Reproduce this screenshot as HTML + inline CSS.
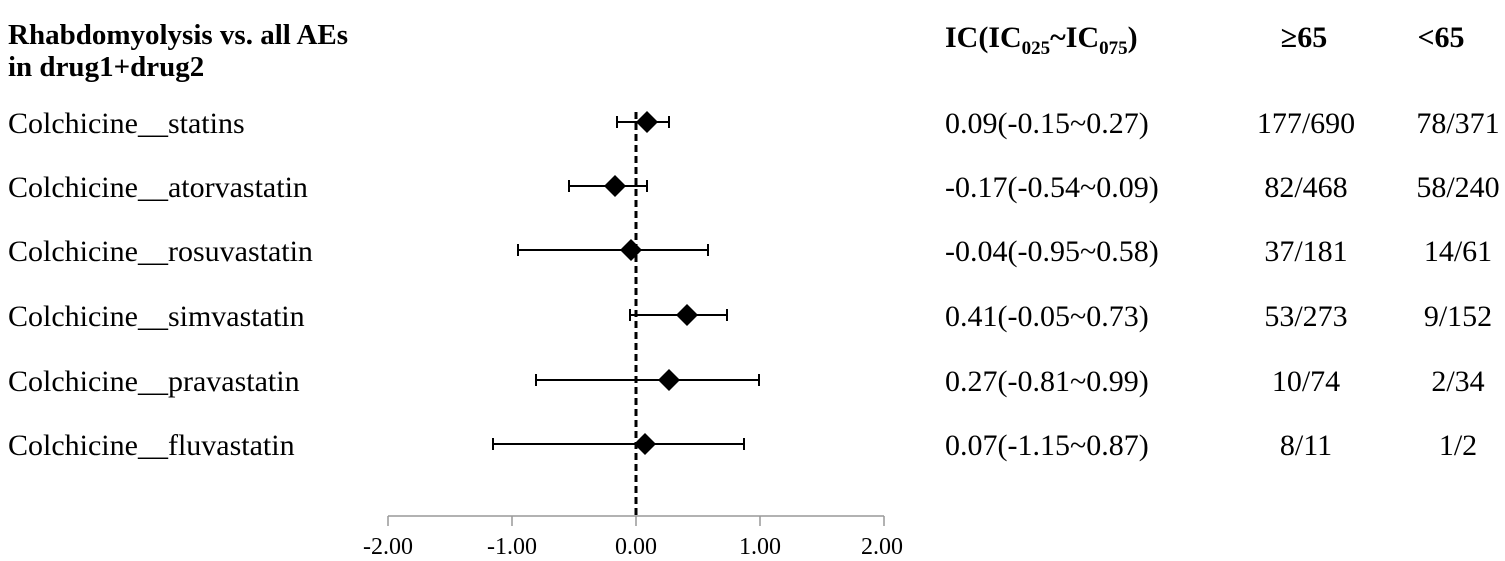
<!DOCTYPE html>
<html><head><meta charset="utf-8"><style>
html,body{margin:0;padding:0;background:#fff;}
svg text{font-family:"Liberation Serif",serif;fill:#000;}
</style></head><body>
<svg width="1505" height="556" viewBox="0 0 1505 556" xmlns="http://www.w3.org/2000/svg">
<g font-weight="bold" font-size="30">
<text x="8" y="44" font-size="29">Rhabdomyolysis vs. all AEs</text>
<text x="8" y="76" font-size="29">in drug1+drug2</text>
<text x="945" y="47">IC(IC<tspan font-size="19" dy="7">025</tspan><tspan dy="-7">~IC</tspan><tspan font-size="19" dy="7">075</tspan><tspan dy="-7">)</tspan></text>
<text x="1304" y="47" text-anchor="middle">≥65</text>
<text x="1441" y="47" text-anchor="middle">&lt;65</text>
</g>
<g font-size="30">
<text x="8" y="133">Colchicine__statins</text>
<text x="8" y="197">Colchicine__atorvastatin</text>
<text x="8" y="261">Colchicine__rosuvastatin</text>
<text x="8" y="326">Colchicine__simvastatin</text>
<text x="8" y="391">Colchicine__pravastatin</text>
<text x="8" y="455">Colchicine__fluvastatin</text>
<text x="945" y="133">0.09(-0.15~0.27)</text>
<text x="945" y="197">-0.17(-0.54~0.09)</text>
<text x="945" y="261">-0.04(-0.95~0.58)</text>
<text x="945" y="326">0.41(-0.05~0.73)</text>
<text x="945" y="391">0.27(-0.81~0.99)</text>
<text x="945" y="455">0.07(-1.15~0.87)</text>
<g text-anchor="middle">
<text x="1306" y="133">177/690</text>
<text x="1306" y="197">82/468</text>
<text x="1306" y="261">37/181</text>
<text x="1306" y="326">53/273</text>
<text x="1306" y="391">10/74</text>
<text x="1306" y="455">8/11</text>
<text x="1458" y="133">78/371</text>
<text x="1458" y="197">58/240</text>
<text x="1458" y="261">14/61</text>
<text x="1458" y="326">9/152</text>
<text x="1458" y="391">2/34</text>
<text x="1458" y="455">1/2</text>
</g>
</g>
<g stroke="#999" stroke-width="1.5" fill="none">
<line x1="388" y1="516" x2="884" y2="516"/>
<line x1="388" y1="516" x2="388" y2="526"/>
<line x1="512" y1="516" x2="512" y2="526"/>
<line x1="636" y1="516" x2="636" y2="526"/>
<line x1="760" y1="516" x2="760" y2="526"/>
<line x1="884" y1="516" x2="884" y2="526"/>
</g>
<g font-size="24" text-anchor="middle">
<text x="388" y="554">-2.00</text>
<text x="512" y="554">-1.00</text>
<text x="636" y="554">0.00</text>
<text x="760" y="554">1.00</text>
<text x="882" y="554">2.00</text>
</g>
<line x1="636" y1="112" x2="636" y2="516" stroke="#000" stroke-width="3" stroke-dasharray="7,4"/>
<g stroke="#000" stroke-width="2">
<line x1="617" y1="122" x2="669" y2="122"/><line x1="617" y1="116" x2="617" y2="128"/><line x1="669" y1="116" x2="669" y2="128"/>
<line x1="569" y1="186" x2="647" y2="186"/><line x1="569" y1="180" x2="569" y2="192"/><line x1="647" y1="180" x2="647" y2="192"/>
<line x1="518" y1="250" x2="708" y2="250"/><line x1="518" y1="244" x2="518" y2="256"/><line x1="708" y1="244" x2="708" y2="256"/>
<line x1="630" y1="315" x2="727" y2="315"/><line x1="630" y1="309" x2="630" y2="321"/><line x1="727" y1="309" x2="727" y2="321"/>
<line x1="536" y1="380" x2="759" y2="380"/><line x1="536" y1="374" x2="536" y2="386"/><line x1="759" y1="374" x2="759" y2="386"/>
<line x1="493" y1="444" x2="744" y2="444"/><line x1="493" y1="438" x2="493" y2="450"/><line x1="744" y1="438" x2="744" y2="450"/>
</g>
<g fill="#000">
<polygon points="647,111 658,122 647,133 636,122"/>
<polygon points="615,175 626,186 615,197 604,186"/>
<polygon points="631,239 642,250 631,261 620,250"/>
<polygon points="687,304 698,315 687,326 676,315"/>
<polygon points="669,369 680,380 669,391 658,380"/>
<polygon points="645,433 656,444 645,455 634,444"/>
</g>
</svg>
</body></html>
